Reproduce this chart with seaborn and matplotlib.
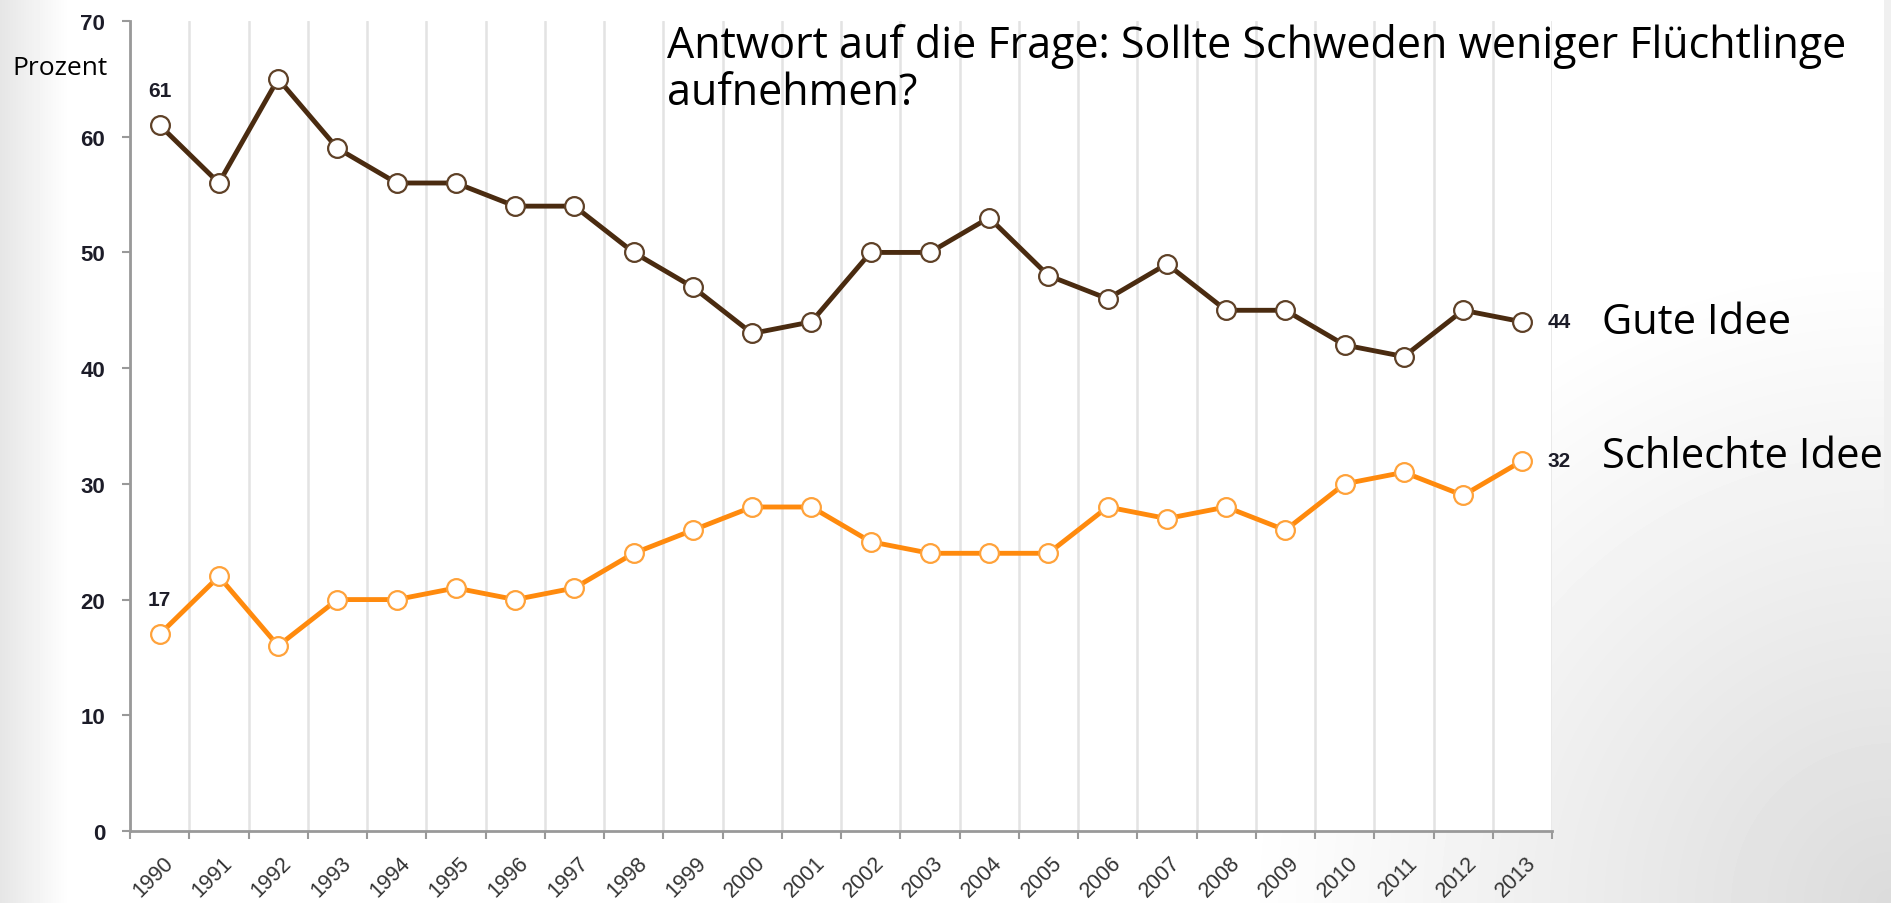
import numpy as np
import seaborn as sns
import matplotlib.pyplot as plt
import matplotlib.transforms as mtransforms

# Daten
years = [1990, 1991, 1992, 1993, 1994, 1995, 1996, 1997, 1998, 1999, 2000, 2001,
         2002, 2003, 2004, 2005, 2006, 2007, 2008, 2009, 2010, 2011, 2012, 2013]
gute_idee = [61, 56, 65, 59, 56, 56, 54, 54, 50, 47, 43, 44,
             50, 50, 53, 48, 46, 49, 45, 45, 42, 41, 45, 44]
schlechte_idee = [17, 22, 16, 20, 20, 21, 20, 21, 24, 26, 28, 28,
                  25, 24, 24, 24, 28, 27, 28, 26, 30, 31, 29, 32]
y_ticks = [0, 10, 20, 30, 40, 50, 60, 70]

title_lines = ["Antwort auf die Frage: Sollte Schweden weniger Flüchtlinge", "aufnehmen?"]
label_gut = "Gute Idee"
label_schlecht = "Schlechte Idee"
y_label = "Prozent"

brown = "#4a2b10"
brown_edge = "#5e4026"
orange = "#ff8a0d"
orange_edge = "#ffa23a"

sns.set_style("white")
plt.rcParams["font.family"] = ["Liberation Sans", "DejaVu Sans"]

W, H = 1891, 904
fig = plt.figure(figsize=(W / 100, H / 100), dpi=100)

# slide background: grey fade at the edges
bg = fig.add_axes([0, 0, 1, 1], zorder=-10)
xx, yy = np.meshgrid(np.arange(W), np.arange(H))
shade = 0.90 + 0.10 * np.clip(xx / 69.0, 0, 1)
shade[:, 1884:] = np.minimum(shade[:, 1884:], 0.94)
corner = np.hypot(xx - W, yy - H)
shade = np.minimum(shade, 0.86 + 0.14 * np.clip(corner / 650.0, 0, 1))
bg.imshow(shade, cmap="gray", vmin=0, vmax=1, aspect="auto", extent=[0, W, H, 0])
bg.axis("off")

ax = fig.add_axes([130 / W, 1 - 832 / H, (1552 - 130) / W, (832 - 22) / H])
ax.set_facecolor("white")

sns.lineplot(x=years, y=gute_idee, ax=ax, color=brown, linewidth=3.5,
             marker="o", markersize=13.5, markerfacecolor="white",
             markeredgecolor=brown_edge, markeredgewidth=1.6, zorder=4)
sns.lineplot(x=years, y=schlechte_idee, ax=ax, color=orange, linewidth=3.5,
             marker="o", markersize=13.5, markerfacecolor="white",
             markeredgecolor=orange_edge, markeredgewidth=1.6, zorder=4)

ax.set_xlim(years[0] - 0.5, years[-1] + 0.5)
ax.set_ylim(y_ticks[0], y_ticks[-1])

# x axis: labels per year, ticks + grid between years
ax.set_xticks(years)
ax.set_xticklabels([str(y) for y in years], rotation=45, ha="right", va="top",
                   rotation_mode="anchor", fontsize=15.5, color="#333333")
ax.set_xticks([y - 0.5 for y in years] + [years[-1] + 0.5], minor=True)
ax.tick_params(axis="x", which="major", length=0, pad=15)
ax.tick_params(axis="x", which="minor", length=6, width=1.5, color="#999999",
               direction="out", bottom=True)
offset = mtransforms.ScaledTranslation(0.03, 0, fig.dpi_scale_trans)
for lab in ax.get_xticklabels():
    lab.set_transform(lab.get_transform() + offset)

ax.set_yticks(y_ticks)
ax.set_yticklabels([str(v) for v in y_ticks], fontsize=16, fontweight="bold",
                   color="#1c1c28")
ax.tick_params(axis="y", length=6, width=1.5, color="#999999", direction="out",
               left=True, pad=12)

ax.grid(False)
ax.grid(which="minor", axis="x", color="#e3e3e3", linewidth=1.8)
ax.set_axisbelow(True)
for side in ["top", "right"]:
    ax.spines[side].set_visible(False)
for side in ["left", "bottom"]:
    ax.spines[side].set_color("#999999")
    ax.spines[side].set_linewidth(2)
ax.set_xlabel("")
ax.set_ylabel("")

# value labels at start and end
val_kw = dict(textcoords="offset points", fontsize=15, fontweight="bold",
              color="#1c1c28", zorder=5)
ax.annotate(str(gute_idee[0]), (years[0], gute_idee[0]), xytext=(0, 25),
            ha="center", va="center", **val_kw)
ax.annotate(str(schlechte_idee[0]), (years[0], schlechte_idee[0]), xytext=(0, 25),
            ha="center", va="center", **val_kw)
ax.annotate(str(gute_idee[-1]), (years[-1], gute_idee[-1]), xytext=(18, 0),
            ha="left", va="center", annotation_clip=False, **val_kw)
ax.annotate(str(schlechte_idee[-1]), (years[-1], schlechte_idee[-1]), xytext=(18, 0),
            ha="left", va="center", annotation_clip=False, **val_kw)

# slide texts
big = dict(family=["Open Sans", "DejaVu Sans"], color="black",
           ha="left", va="baseline")
fig.text(667 / W, 1 - 58 / H, title_lines[0], fontsize=31, **big)
fig.text(667 / W, 1 - 105 / H, title_lines[1], fontsize=31, **big)
fig.text(1602 / W, 1 - 334 / H, label_gut, fontsize=30, **big)
fig.text(1602 / W, 1 - 468 / H, label_schlecht, fontsize=30, **big)
fig.text(12 / W, 1 - 75 / H, y_label, family=["Open Sans", "DejaVu Sans"],
         fontsize=19, color="black", ha="left", va="baseline")

fig.savefig("out.png", dpi=100)
